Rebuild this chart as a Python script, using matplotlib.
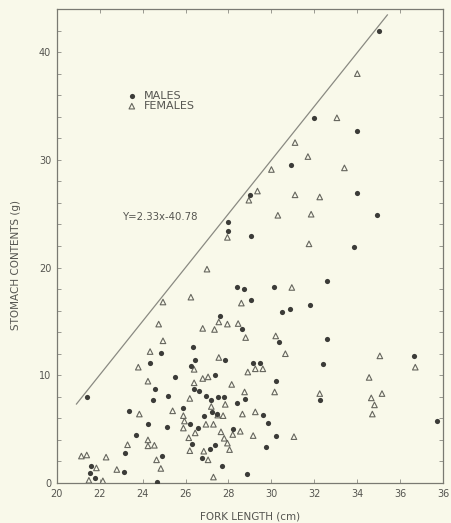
import matplotlib
matplotlib.use("Agg")
import matplotlib.pyplot as plt
from matplotlib.ticker import MultipleLocator
import numpy as np

# fork length (cm) and stomach contents (g)
males_x = [35.0, 32.0, 34.0, 30.9, 29.0, 34.0, 34.9, 28.0, 28.0, 29.05, 33.85,
           28.4, 28.7, 30.1, 32.6, 29.05, 31.8, 30.85, 30.5, 27.6, 28.65, 30.35,
           32.6, 26.35, 24.85, 24.35, 26.45, 27.85, 29.15, 29.45, 26.25, 32.4,
           36.65, 25.5, 27.35, 30.2, 26.4, 26.65, 24.6, 25.2, 26.95, 27.2, 27.5,
           27.8, 28.75, 28.4, 32.25, 21.4, 24.5, 25.9, 23.35, 27.25, 27.45, 29.6,
           26.85, 24.25, 25.15, 26.2, 26.6, 29.85, 28.2, 37.7, 23.7, 30.2, 26.3,
           27.15, 27.35, 29.75, 23.2, 24.9, 26.75, 27.7, 28.85, 23.15, 24.65,
           21.6, 21.55, 21.8]
males_y = [42.0, 33.9, 32.7, 29.5, 26.7, 26.9, 24.9, 24.25, 23.4, 22.9, 21.9,
           18.15, 18.0, 18.15, 18.75, 17.0, 16.5, 16.15, 15.85, 15.5, 14.3, 13.1,
           13.35, 12.65, 12.05, 11.15, 11.4, 11.4, 11.1, 11.1, 10.9, 11.0,
           11.8, 9.85, 10.0, 9.5, 8.7, 8.55, 8.75, 8.1, 8.05, 7.75, 8.0,
           8.0, 7.8, 7.45, 7.7, 7.95, 7.75, 6.95, 6.7, 6.55, 6.45, 6.35,
           6.25, 5.45, 5.2, 5.45, 5.1, 5.6, 5.05, 5.8, 4.5, 4.4, 3.6,
           3.2, 3.5, 3.3, 2.75, 2.5, 2.3, 1.55, 0.85, 1.0, 0.05,
           1.6, 0.95, 0.45]

females_x = [34.0, 33.05, 31.1, 31.7, 30.0, 33.4, 29.35, 28.95, 31.1, 32.25,
             30.3, 31.85, 27.95, 31.75, 27.0, 24.95, 26.25, 30.95, 28.6, 27.55,
             27.95, 28.45, 26.8, 27.35, 28.8, 30.2, 24.75, 24.95, 24.35, 30.65,
             27.55, 23.8, 26.4, 28.9, 29.25, 29.6, 26.8, 27.05, 24.25, 35.05,
             36.7, 34.55, 26.4, 28.15, 35.15, 32.25, 30.15, 28.75, 26.2, 27.85,
             34.65, 34.8, 27.2, 25.4, 23.85, 34.7, 28.65, 29.25, 27.5, 27.75,
             25.9, 25.95, 26.95, 27.3, 25.9, 26.45, 27.65, 28.55, 28.2, 29.15,
             31.05, 26.15, 27.8, 27.95, 28.05, 23.3, 24.25, 24.25, 24.55, 26.2,
             26.85, 27.05, 24.65, 24.85, 22.8, 22.3, 21.15, 21.4, 21.85, 21.5,
             22.15, 27.3]
females_y = [38.0, 33.9, 31.6, 30.3, 29.1, 29.25, 27.1, 26.25, 26.75, 26.55,
             24.85, 24.95, 22.8, 22.2, 19.85, 16.8, 17.25, 18.15, 16.7, 14.95,
             14.75, 14.8, 14.35, 14.25, 13.5, 13.65, 14.75, 13.2, 12.2, 12.0,
             11.65, 10.75, 10.55, 10.3, 10.6, 10.6, 9.7, 9.85, 9.45, 11.8,
             10.75, 9.8, 9.3, 9.15, 8.3, 8.3, 8.45, 8.45, 7.85, 7.3,
             7.9, 7.25, 7.1, 6.7, 6.4, 6.4, 6.4, 6.6, 6.3, 6.25,
             6.25, 5.75, 5.45, 5.45, 5.1, 4.65, 4.75, 4.8, 4.5, 4.4,
             4.3, 4.2, 4.15, 3.7, 3.1, 3.55, 4.0, 3.45, 3.5, 3.0,
             2.95, 2.15, 2.15, 1.35, 1.25, 2.4, 2.5, 2.6, 1.4, 0.25,
             0.2, 0.55]

# drawn regression line (end points as printed) and its label
line_x = [20.92, 35.4]
line_y = [7.33, 43.45]
eq_text = "Y=2.33x-40.78"

# tick labels as printed (last one reads 36 in the original)
xtick_vals = [20, 22, 24, 26, 28, 30, 32, 34, 36, 38]
xtick_labels = ['20', '22', '24', '26', '28', '30', '32', '34', '36', '36']

bg = '#f9f9ea'
ink = '#555550'

fig = plt.figure(figsize=(4.51, 5.23), dpi=100, facecolor=bg)
ax = fig.add_axes([0.1257, 0.0765, 0.857, 0.9063])
ax.set_facecolor(bg)

ax.plot(line_x, line_y, color='#8a8a82', lw=0.9, zorder=1)
ax.scatter(males_x, males_y, s=14, color='#3c3c38', marker='o',
           linewidths=0, label='MALES', zorder=3)
ax.scatter(females_x, females_y, s=16, facecolors='none', edgecolors='#66665e',
           marker='^', linewidths=0.8, label='FEMALES', zorder=2)

ax.text(23.1, 24.7, eq_text, fontsize=7.3, color=ink, va='center', ha='left')

ax.set_xlim(20, 38)
ax.set_ylim(0, 44)
ax.yaxis.set_major_locator(MultipleLocator(10))
ax.yaxis.set_minor_locator(MultipleLocator(2))
ax.set_xticks(xtick_vals)
ax.set_xticklabels(xtick_labels)

for sp in ax.spines.values():
    sp.set_color('#7a7a72')
    sp.set_linewidth(0.9)
ax.tick_params(which='both', direction='in', top=True, right=True,
               length=3, width=0.6, color='#8a8a82',
               labelsize=7, labelcolor=ink, pad=4)

ax.set_xlabel('FORK LENGTH (cm)', fontsize=7.5, color=ink, labelpad=9)
ax.set_ylabel('STOMACH CONTENTS (g)', fontsize=7.5, color=ink)
ax.yaxis.set_label_coords(-0.093, 0.46)

leg = ax.legend(loc='upper left', bbox_to_anchor=(0.18, 0.828), frameon=False,
                fontsize=8, handlelength=1.0, handletextpad=0.6,
                labelspacing=0.05, borderpad=0, borderaxespad=0)
for t in leg.get_texts():
    t.set_color(ink)

fig.savefig('out.png', dpi=100, facecolor=bg)
